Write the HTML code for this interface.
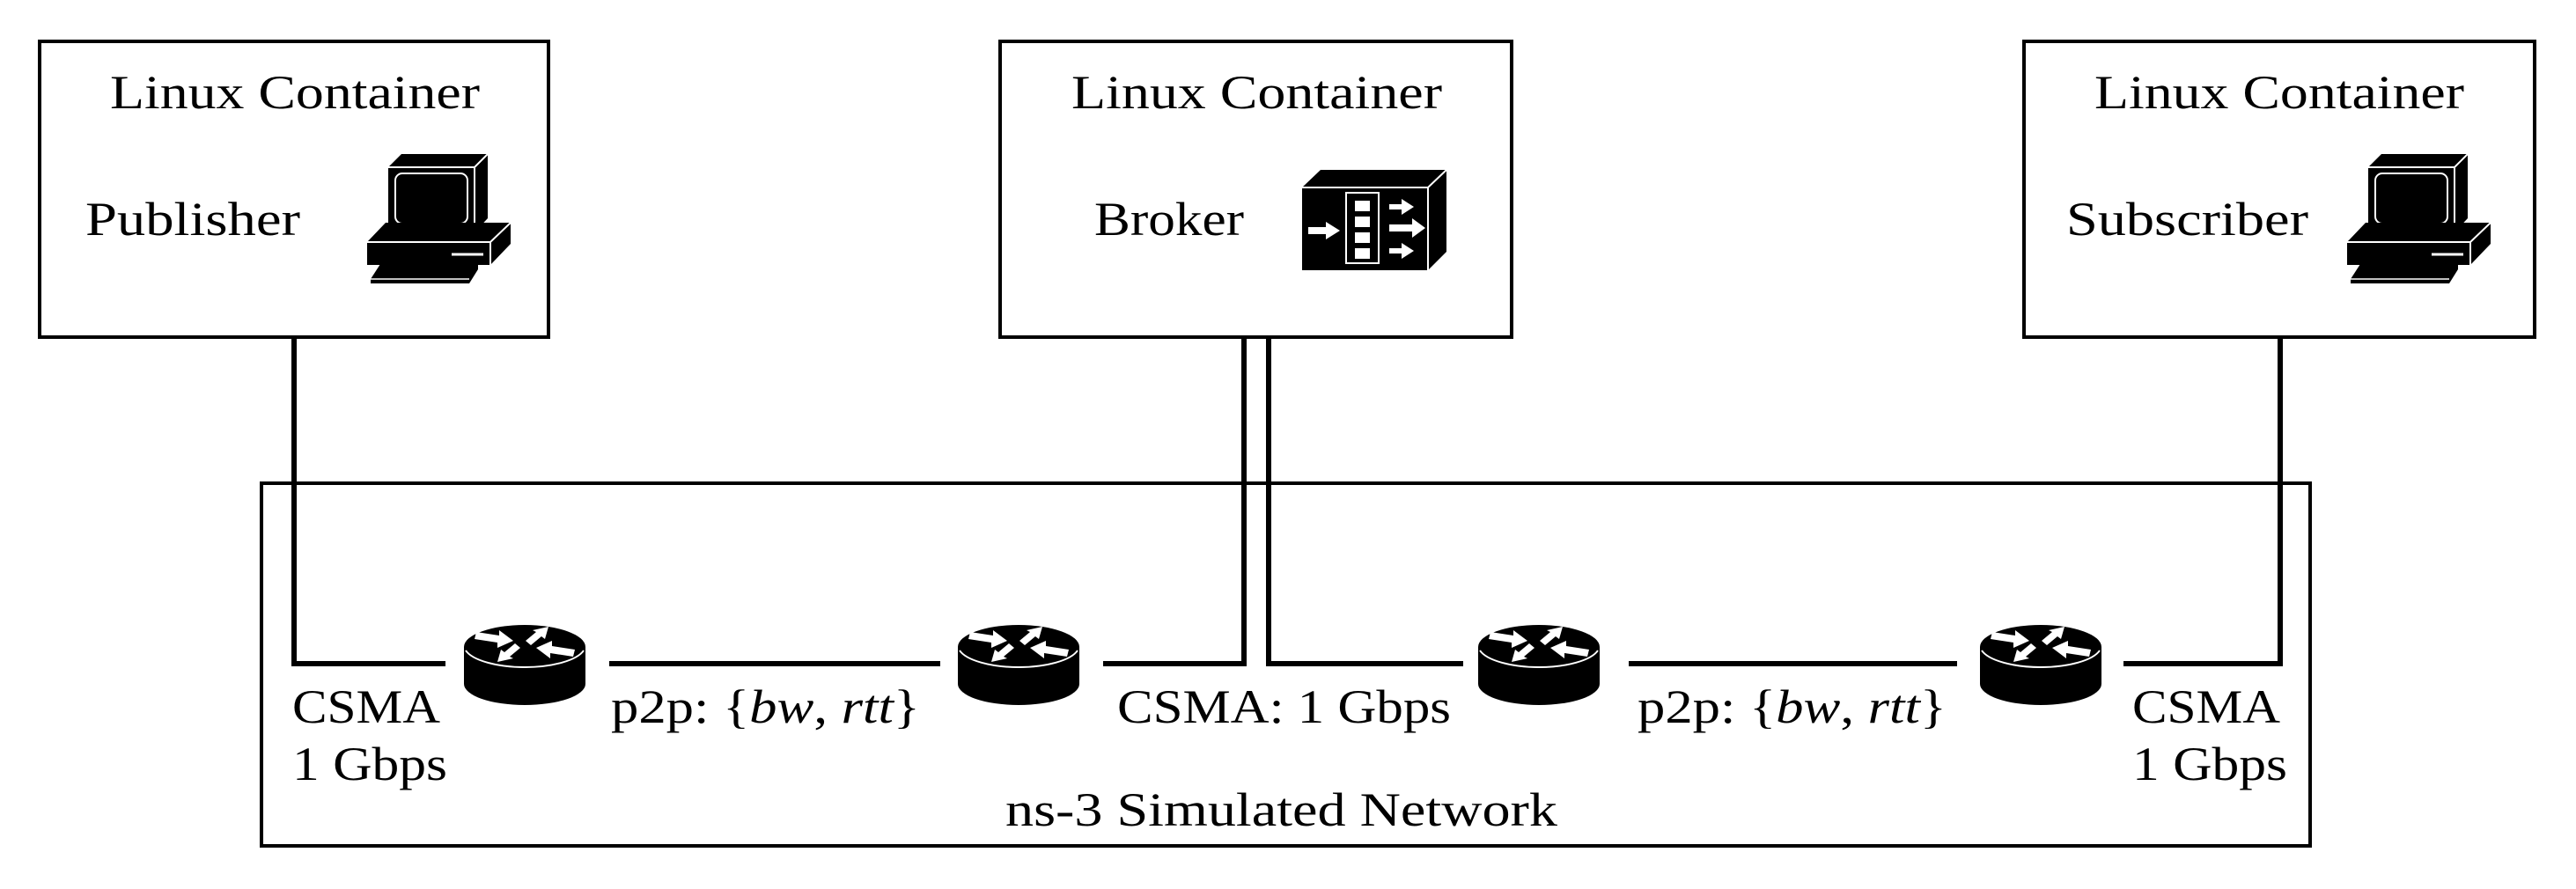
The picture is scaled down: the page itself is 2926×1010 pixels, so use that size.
<!DOCTYPE html>
<html><head><meta charset="utf-8"><style>
html,body{margin:0;padding:0;background:#fff;}
svg{display:block;}
text{font-family:"Liberation Serif",serif;font-size:54px;fill:#000;}
</style></head><body>
<svg width="2926" height="1010" viewBox="0 0 2926 1010" xmlns="http://www.w3.org/2000/svg">
<defs>
<g id="router">
  <path d="M0,27 L0,69 A69,24 0 0 0 138,69 L138,27 Z" fill="#000"/>
  <ellipse cx="69" cy="27" rx="69" ry="25" fill="#000"/>
  <path d="M2,31 A69,25 0 0 0 136,31" fill="none" stroke="#fff" stroke-width="2"/>
  <polygon points="14,10 40,14 40,8 56,20 38,28 38,22 12,18" fill="#fff"/>
  <polygon points="124,38 98,34 98,40 82,28 100,20 100,26 126,30" fill="#fff"/>
  <polygon points="70,20 82,10 78,8 96,4 92,18 88,15 76,25" fill="#fff"/>
  <polygon points="64,28 52,38 56,40 38,44 42,30 46,33 58,23" fill="#fff"/>
</g>
<g id="pc">
  <!-- monitor -->
  <polygon points="441,190 456,175 554,175 554,248 539,264 441,264" fill="#000"/>
  <polyline points="441,190 539,190 554,175" fill="none" stroke="#fff" stroke-width="2"/>
  <line x1="539" y1="190" x2="539" y2="264" stroke="#fff" stroke-width="2"/>
  <rect x="449" y="197" width="82" height="57" rx="8" fill="#000" stroke="#fff" stroke-width="2"/>
  <!-- base -->
  <polygon points="417,275 438,253 580,253 580,277 557,301 417,301" fill="#000"/>
  <polyline points="417,275 557,275 580,253" fill="none" stroke="#fff" stroke-width="2"/>
  <line x1="557" y1="275" x2="557" y2="301" stroke="#fff" stroke-width="2"/>
  <line x1="513" y1="289" x2="549" y2="289" stroke="#fff" stroke-width="3"/>
  <!-- keyboard -->
  <polygon points="421,317 432,300 543,300 543,306 533,322 421,322" fill="#000"/>
  <line x1="421" y1="317" x2="533" y2="317" stroke="#fff" stroke-width="1.5"/>
</g>
</defs>

<rect x="45" y="47" width="578" height="336" fill="none" stroke="#000" stroke-width="4"/>
<rect x="1136" y="47" width="581" height="336" fill="none" stroke="#000" stroke-width="4"/>
<rect x="2299" y="47" width="580" height="336" fill="none" stroke="#000" stroke-width="4"/>
<rect x="297" y="549" width="2327" height="412" fill="none" stroke="#000" stroke-width="4"/>

<g fill="none" stroke="#000" stroke-width="6">
  <polyline points="334,383 334,754 506,754"/>
  <line x1="692" y1="754" x2="1068" y2="754"/>
  <polyline points="1253,754 1413,754 1413,383"/>
  <polyline points="1441,383 1441,754 1662,754"/>
  <line x1="1850" y1="754" x2="2223" y2="754"/>
  <polyline points="2412,754 2590,754 2590,383"/>
</g>

<use href="#router" x="527" y="708"/>
<use href="#router" x="1088" y="708"/>
<use href="#router" x="1679" y="708"/>
<use href="#router" x="2249" y="708"/>

<use href="#pc" x="0" y="0"/>
<use href="#pc" x="2249" y="0"/>

<g>
  <polygon points="1479,213 1500,193 1643,193 1643,286 1622,307 1479,307" fill="#000"/>
  <polyline points="1479,213 1622,213 1643,193" fill="none" stroke="#fff" stroke-width="2"/>
  <line x1="1622" y1="213" x2="1622" y2="307" stroke="#fff" stroke-width="2"/>
  <rect x="1529" y="219" width="37" height="80" fill="#000" stroke="#fff" stroke-width="2"/>
  <rect x="1539" y="228" width="17" height="12" fill="#fff"/>
  <rect x="1539" y="246" width="17" height="12" fill="#fff"/>
  <rect x="1539" y="264" width="17" height="12" fill="#fff"/>
  <rect x="1539" y="282" width="17" height="12" fill="#fff"/>
  <g fill="#fff">
    <polygon points="1486,258 1506,258 1506,252 1522,262 1506,272 1506,266 1486,266"/>
    <polygon points="1578,232 1592,232 1592,226 1606,235 1592,244 1592,238 1578,238"/>
    <polygon points="1578,255 1604,255 1604,248 1619,259 1604,270 1604,263 1578,263"/>
    <polygon points="1578,282 1592,282 1592,276 1606,285 1592,294 1592,288 1578,288"/>
  </g>
</g>

<text x="125" y="123" textLength="420" lengthAdjust="spacingAndGlyphs">Linux Container</text>
<text x="1217" y="123" textLength="421" lengthAdjust="spacingAndGlyphs">Linux Container</text>
<text x="2379" y="123" textLength="420" lengthAdjust="spacingAndGlyphs">Linux Container</text>
<text x="97" y="267" textLength="244" lengthAdjust="spacingAndGlyphs">Publisher</text>
<text x="1243" y="267" textLength="170" lengthAdjust="spacingAndGlyphs">Broker</text>
<text x="2347" y="267" textLength="275" lengthAdjust="spacingAndGlyphs">Subscriber</text>

<text x="332" y="821" textLength="168" lengthAdjust="spacingAndGlyphs">CSMA</text>
<text x="332" y="886" textLength="176" lengthAdjust="spacingAndGlyphs">1 Gbps</text>
<text x="694" y="821" textLength="351" lengthAdjust="spacingAndGlyphs">p2p: {<tspan font-style="italic">bw</tspan>, <tspan font-style="italic">rtt</tspan>}</text>
<text x="1269" y="821" textLength="379" lengthAdjust="spacingAndGlyphs">CSMA: 1 Gbps</text>
<text x="1860" y="821" textLength="351" lengthAdjust="spacingAndGlyphs">p2p: {<tspan font-style="italic">bw</tspan>, <tspan font-style="italic">rtt</tspan>}</text>
<text x="2422" y="821" textLength="168" lengthAdjust="spacingAndGlyphs">CSMA</text>
<text x="2422" y="886" textLength="176" lengthAdjust="spacingAndGlyphs">1 Gbps</text>
<text x="1142" y="938" textLength="627" lengthAdjust="spacingAndGlyphs">ns-3 Simulated Network</text>
</svg>
</body></html>
